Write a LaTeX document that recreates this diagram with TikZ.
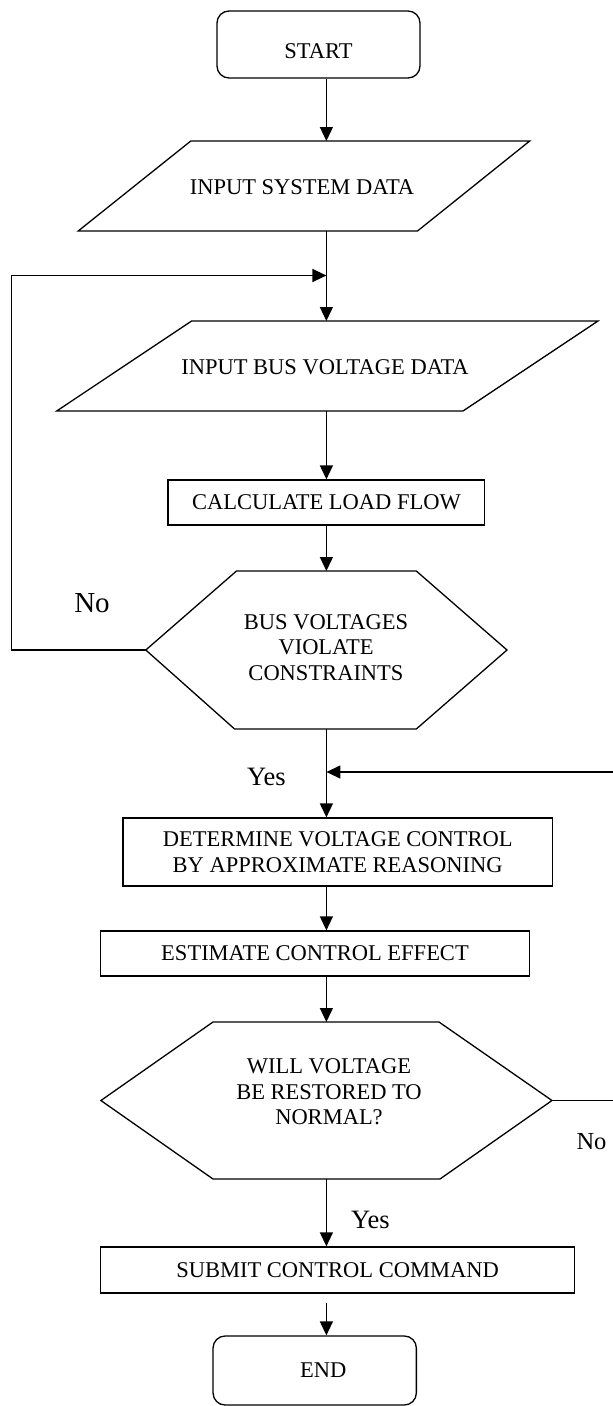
\documentclass[tikz,border=0pt]{standalone}
\usepackage{fontspec}
\setmainfont{Liberation Serif}
\usetikzlibrary{arrows.meta,calc}
\newcommand{\flowfont}{\fontsize{22.5}{25.5}\selectfont}
\begin{document}
\begin{tikzpicture}[x=1pt,y=-1pt,
  every node/.style={font=\flowfont, inner sep=0pt},
  ln/.style={line width=1.3pt, line join=miter},
  arr/.style={ln, -{Triangle[length=14pt,width=13pt]}},
  procbox/.style={draw, ln, rectangle, align=center},
  termbox/.style={draw, ln, rectangle, rounded corners=12pt},
  shapetext/.style={align=center},
  lbl/.style={font=\fontsize{26.5}{28}\selectfont}]
\useasboundingbox (0,0) rectangle (613,1406);
\coordinate (spine) at (326.4,0);

% terminals and boxes
\node[termbox, minimum width=203pt, minimum height=67pt, text height=27pt, text depth=0pt] (start) at (318.5,44.5) {START};
\node[procbox, minimum width=316.8pt, minimum height=45pt] (calc) at (326.4,502.5) {CALCULATE LOAD FLOW};
\node[procbox, minimum width=429.4pt, minimum height=68pt] (det) at (337.7,852) {DETERMINE VOLTAGE CONTROL\\BY APPROXIMATE REASONING};
\node[procbox, minimum width=429.2pt, minimum height=45pt] (est) at (315,953.5) {ESTIMATE CONTROL EFFECT};
\node[procbox, minimum width=474.2pt, minimum height=46pt] (sub) at (337.6,1270) {SUBMIT CONTROL COMMAND};
\node[termbox, minimum width=203.3pt, minimum height=69pt] (end) at (314.7,1370.5) {\hspace*{17pt}END};

% parallelogram 1
\node[shapetext] (p1) at (302,187) {INPUT SYSTEM DATA};
\draw[ln] (190.8,141) coordinate (p1nw) -- (529.7,141) -- (417.5,231) -- (78.2,231) coordinate (p1sw) -- cycle;
% parallelogram 2
\node[shapetext] (p2) at (325,367) {INPUT BUS VOLTAGE DATA};
\draw[ln] (191.6,321) coordinate (p2nw) -- (598,321) -- (463,411) -- (56.7,411) coordinate (p2sw) -- cycle;
% hexagon 1
\node[shapetext] (h1) at (326,647.5) {BUS VOLTAGES\\VIOLATE\\CONSTRAINTS};
\draw[ln] (236.5,571) coordinate (h1n) -- (416.3,571) -- (507,650) -- (416.3,729) -- (234.6,729) coordinate (h1s) -- (145.8,650) coordinate (h1w) -- cycle;
% hexagon 2
\node[shapetext] (h2) at (329,1092) {WILL VOLTAGE\\BE RESTORED TO\\NORMAL?};
\draw[ln] (213,1022) coordinate (h2n) -- (439,1022) -- (552,1100.5) coordinate (h2e) -- (440,1179) -- (213,1179) coordinate (h2s) -- (100.9,1100.5) -- cycle;

% loop coordinates
\coordinate (fbx) at (11.7,0);
\coordinate (fbjoin) at (326.4,275.5);
\coordinate (nojoin) at (326.4,772);
\coordinate (edgeA) at (613,772);
\coordinate (edgeB) at (613,1100.5);

% connectors
\draw[arr] (start.south -| spine) -- (p1nw -| spine);
\draw[ln] (p1sw -| spine) -- (fbjoin);
\draw[arr] (fbjoin) -- (p2nw -| spine);
\draw[arr] (p2sw -| spine) -- (calc.north -| spine);
\draw[arr] (calc.south -| spine) -- (h1n -| spine);
\draw[arr] (h1w) -- (h1w -| fbx) -- (fbx |- fbjoin) -- (fbjoin);
\draw[arr] (h1s -| spine) -- (det.north -| spine);
\draw[arr] (edgeA) -- (nojoin);
\draw[ln] (h2e) -- (edgeB);
\draw[arr] (det.south -| spine) -- (est.north -| spine);
\draw[arr] (est.south -| spine) -- (h2n -| spine);
\draw[arr] (h2s -| spine) -- (sub.north -| spine);
\draw[arr] ($(sub.south -| spine)+(0,9)$) -- (end.north -| spine);

% labels
\node[font=\fontsize{29}{30}\selectfont] (no1) at (92,603) {No};
\node[lbl] (yes1) at (266.5,777) {Yes};
\node[font=\fontsize{24.5}{26}\selectfont] (no2) at (591.5,1142) {No};
\node[lbl] (yes2) at (370.5,1220) {Yes};
\end{tikzpicture}
\end{document}
